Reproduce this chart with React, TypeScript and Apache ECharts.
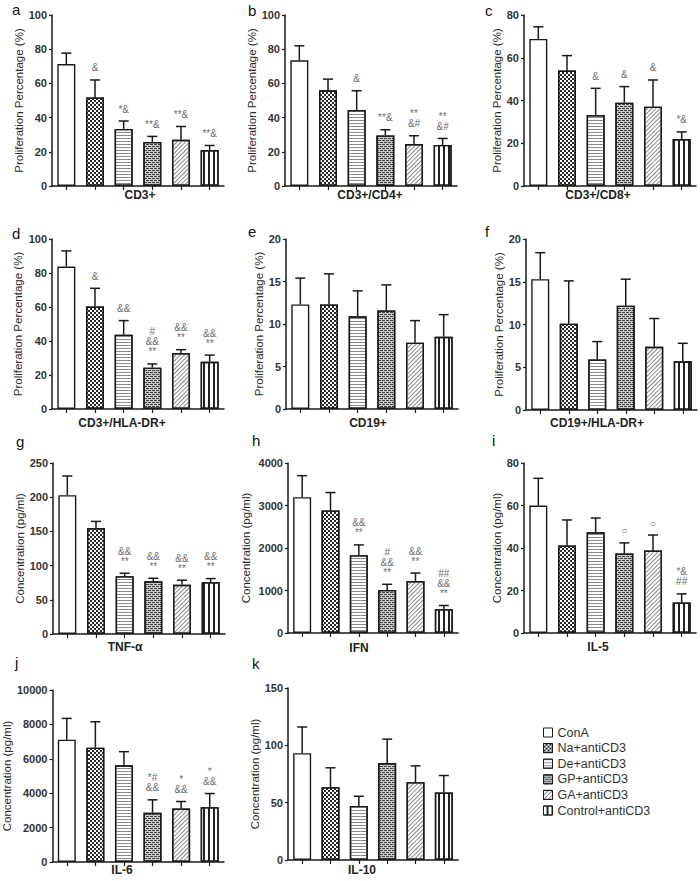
import React, { useEffect, useRef } from 'react';
import * as echarts from 'echarts';

const groups = ['ConA', 'Na+antiCD3', 'De+antiCD3', 'GP+antiCD3', 'GA+antiCD3', 'Control+antiCD3'];

const PP = 'Proliferation Percentage (%)';
const CC = 'Concentration (pg/ml)';

const cd3Mean = [71.3, 51.8, 33.4, 25.8, 27, 21];
const cd3Upper = [77.7, 62, 38, 29, 34.8, 23.7];
const cd3Sig = ['', '&', '*&', '**&', '**&', '**&'];

const cd4Mean = [73.5, 56, 44.4, 29.6, 24.5, 24];
const cd4Upper = [82, 62.5, 55.7, 32.9, 29.4, 27.8];
const cd4Sig = ['', '', '&', '**&', '**\n&#', '**\n&#'];

const cd8Mean = [68.8, 54, 33.2, 39, 37.1, 22];
const cd8Upper = [74.5, 61, 45.7, 46.5, 49.6, 25.3];
const cd8Sig = ['', '', '&', '&', '&', '*&'];

const hlaMean = [83.8, 60.3, 43.7, 24.3, 32.9, 27.8];
const hlaUpper = [93, 71, 52, 26.5, 34.9, 31.7];
const hlaSig = ['', '&', '&&', '#\n&&\n**', '&&\n**', '&&\n**'];

const cd19Mean = [12.3, 12.3, 10.9, 11.6, 7.8, 8.5];
const cd19Upper = [15.4, 15.9, 13.9, 14.6, 10.4, 11.1];
const cd19Sig = ['', '', '', '', '', ''];

const cd19HlaMean = [15.3, 10.1, 5.9, 12.2, 7.4, 5.7];
const cd19HlaUpper = [18.4, 15.1, 8.0, 15.3, 10.7, 7.8];
const cd19HlaSig = ['', '', '', '', '', ''];

const tnfMean = [203, 155, 84.5, 77, 72, 75.7];
const tnfUpper = [231, 164.6, 88.8, 81.5, 78.6, 81];
const tnfSig = ['', '', '&&\n**', '&&\n**', '&&\n**', '&&\n**'];

const ifnMean = [3196, 2884, 1832, 1013, 1224, 561];
const ifnUpper = [3702, 3305, 2073, 1146, 1411, 647];
const ifnSig = ['', '', '&&\n**', '#\n&&\n**', '&&\n**', '##\n&&\n**'];

const il5Mean = [60, 41.2, 47.4, 37.4, 38.8, 14.3];
const il5Upper = [72.8, 53.2, 54.1, 42.4, 46.1, 18.4];
const il5Sig = ['', '', '', '○', '○', '*&\n##'];

const il6Mean = [7111, 6647, 5623, 2860, 3111, 3188];
const il6Upper = [8348, 8155, 6415, 3614, 3517, 3981];
const il6Sig = ['', '', '', '*#\n&&', '*\n&&', '*\n&&'];

const il10Mean = [93.2, 63.5, 47.2, 84.5, 67.9, 58.8];
const il10Upper = [116, 80.4, 55.6, 105.4, 82.1, 73.7];
const il10Sig = ['', '', '', '', '', ''];

const panelLetters = ['a', 'b', 'c', 'd', 'e', 'f', 'g', 'h', 'i', 'j', 'k'];
const panelLabels = ['CD3+', 'CD3+/CD4+', 'CD3+/CD8+', 'CD3+/HLA-DR+', 'CD19+', 'CD19+/HLA-DR+', 'TNF-α', 'IFN', 'IL-5', 'IL-6', 'IL-10'];
const panelYNames = [PP, PP, PP, PP, PP, PP, CC, CC, CC, CC, CC];
const panelMax = [100, 100, 80, 100, 20, 20, 250, 4000, 80, 10000, 150];
const panelStep = [20, 20, 20, 20, 5, 5, 50, 1000, 20, 2000, 50];
const panelMeans = [cd3Mean, cd4Mean, cd8Mean, hlaMean, cd19Mean, cd19HlaMean, tnfMean, ifnMean, il5Mean, il6Mean, il10Mean];
const panelUppers = [cd3Upper, cd4Upper, cd8Upper, hlaUpper, cd19Upper, cd19HlaUpper, tnfUpper, ifnUpper, il5Upper, il6Upper, il10Upper];
const panelSigs = [cd3Sig, cd4Sig, cd8Sig, hlaSig, cd19Sig, cd19HlaSig, tnfSig, ifnSig, il5Sig, il6Sig, il10Sig];

// layout (pixels)
const layout = [
  { left: 52, top: 15, width: 172, height: 171, gap: 27, lx: 12, ly: 9, tx: 140, ty: 195 },
  { left: 285, top: 15, width: 172, height: 171, gap: 20.5, lx: 248, ly: 10, tx: 370, ty: 195 },
  { left: 524, top: 15, width: 172, height: 171, gap: 19.5, lx: 485, ly: 10, tx: 598, ty: 195 },
  { left: 52, top: 239, width: 172, height: 170, gap: 28, lx: 12, ly: 233, tx: 122, ty: 423 },
  { left: 286, top: 239, width: 172, height: 170, gap: 21, lx: 248, ly: 231, tx: 368, ty: 423 },
  { left: 526, top: 239, width: 171, height: 171, gap: 21.5, lx: 485, ly: 231, tx: 597, ty: 423 },
  { left: 53, top: 463, width: 172, height: 171, gap: 26.5, lx: 16, ly: 441, tx: 125, ty: 647 },
  { left: 288, top: 463, width: 170, height: 170, gap: 36.5, lx: 252, ly: 440, tx: 359, ty: 648 },
  { left: 524, top: 463, width: 172, height: 170, gap: 21.5, lx: 492, ly: 440, tx: 598, ty: 647 },
  { left: 52, top: 690, width: 172, height: 172, gap: 37.5, lx: 15, ly: 662, tx: 122, ty: 870 },
  { left: 288, top: 688, width: 170, height: 172, gap: 26.5, lx: 252, ly: 663, tx: 362, ty: 870 },
];

const FONT = "'Liberation Sans', Arial, Helvetica, sans-serif";
const INK = '#1a1a1a';

const fills = ['#ffffff', '#ffffff', '#ffffff', '#c8c8c8', '#ffffff', '#ffffff'];
const decals: any[] = [
  null,
  { symbol: 'rect', symbolSize: 1, color: '#2a2a2a', dashArrayX: [[2, 2], [0, 2, 2, 0]], dashArrayY: [2, 0] },
  { symbol: 'rect', symbolSize: 1, color: '#8a8a8a', dashArrayX: [1, 0], dashArrayY: [1, 2] },
  { symbol: 'rect', symbolSize: 1, color: '#444', dashArrayX: [[3, 1], [1, 1, 2, 0]], dashArrayY: [1, 1] },
  { symbol: 'rect', symbolSize: 1, color: '#8a8a8a', dashArrayX: [1, 0], dashArrayY: [1, 2], rotation: -Math.PI / 4 },
  { symbol: 'rect', symbolSize: 1, color: '#222', dashArrayX: [1, 0], dashArrayY: [2, 3], rotation: Math.PI / 2 },
];

function buildOption() {
  const grid: any[] = [];
  const xAxis: any[] = [];
  const yAxis: any[] = [];
  const series: any[] = [];
  const graphic: any[] = [];

  panelMeans.forEach((mean, p) => {
    const L = layout[p];
    grid.push({ left: L.left, top: L.top, width: L.width, height: L.height });
    xAxis.push({
      type: 'category',
      gridIndex: p,
      data: groups,
      boundaryGap: true,
      axisLine: { show: true, lineStyle: { color: INK, width: 1.5 } },
      axisTick: { show: true, alignWithLabel: true, interval: 0, length: 4, lineStyle: { color: INK, width: 1.2 } },
      axisLabel: { show: false, interval: 0 },
      splitLine: { show: false },
    });
    yAxis.push({
      type: 'value',
      gridIndex: p,
      min: 0,
      max: panelMax[p],
      interval: panelStep[p],
      name: panelYNames[p],
      nameLocation: 'middle',
      nameRotate: 90,
      nameGap: L.gap,
      nameTextStyle: { fontFamily: FONT, fontSize: 11.5, color: '#2a2a2a' },
      axisLine: { show: true, lineStyle: { color: INK, width: 1.5 } },
      axisTick: { show: true, length: 3, lineStyle: { color: INK, width: 1.2 } },
      axisLabel: {
        fontFamily: FONT,
        fontSize: 11,
        fontWeight: 'bold',
        color: '#333',
        margin: 5,
        formatter: (v: number) => String(v),
      },
      splitLine: { show: false },
    });

    groups.forEach((name, g) => {
      const itemStyle: any = { color: fills[g], borderColor: INK, borderWidth: 1.4 };
      if (decals[g]) itemStyle.decal = decals[g];
      series.push({
        type: 'bar',
        name,
        xAxisIndex: p,
        yAxisIndex: p,
        data: mean.map((v, i) => (i === g ? v : '-')),
        barWidth: 18,
        barGap: '-100%',
        itemStyle,
        silent: true,
        z: 2,
      });
    });

    const upper = panelUppers[p];
    const sig = panelSigs[p];
    series.push({
      type: 'custom',
      xAxisIndex: p,
      yAxisIndex: p,
      silent: true,
      z: 5,
      data: mean.map((v, i) => [i, v, upper[i]]),
      encode: { x: 0, y: 1 },
      renderItem: (params: any, api: any) => {
        const i = api.value(0);
        const v = api.value(1);
        const u = api.value(2);
        const a = api.coord([i, v]);
        const b = api.coord([i, u]);
        const x = a[0];
        const children: any[] = [
          { type: 'line', shape: { x1: x, y1: a[1], x2: x, y2: b[1] }, style: { stroke: INK, lineWidth: 1.5 } },
          { type: 'line', shape: { x1: x - 5, y1: b[1], x2: x + 5, y2: b[1] }, style: { stroke: INK, lineWidth: 1.5 } },
        ];
        const s = sig[params.dataIndex];
        if (s) {
          children.push({
            type: 'text',
            x,
            y: b[1] - 7,
            style: {
              text: s,
              fill: '#6e6e6e',
              fontSize: 10,
              fontFamily: FONT,
              align: 'center',
              verticalAlign: 'bottom',
              lineHeight: 10,
            },
          });
        }
        return { type: 'group', children };
      },
    });

    graphic.push({
      type: 'text',
      x: L.lx,
      y: L.ly,
      style: {
        text: panelLetters[p],
        fontSize: 15,
        fontFamily: FONT,
        fill: '#111',
        align: 'left',
        textAlign: 'left',
        verticalAlign: 'middle',
        textVerticalAlign: 'middle',
      },
    });
    graphic.push({
      type: 'text',
      x: L.tx,
      y: L.ty,
      style: {
        text: panelLabels[p],
        fontSize: 12,
        fontWeight: 'bold',
        fontFamily: FONT,
        fill: '#222',
        align: 'center',
        textAlign: 'center',
        verticalAlign: 'middle',
        textVerticalAlign: 'middle',
      },
    });
  });

  return {
    animation: false,
    backgroundColor: '#ffffff',
    grid,
    xAxis,
    yAxis,
    series,
    graphic,
    legend: {
      data: groups,
      orient: 'vertical',
      left: 543,
      top: 726,
      itemWidth: 9,
      itemHeight: 9,
      itemGap: 2.6,
      icon: 'rect',
      selectedMode: false,
      padding: 0,
      textStyle: { fontFamily: FONT, fontSize: 12.5, color: '#333', lineHeight: 12 },
      itemStyle: { borderColor: INK, borderWidth: 1 },
    },
  };
}

export default function App() {
  const ref = useRef<HTMLDivElement>(null);
  useEffect(() => {
    if (!ref.current) return;
    const chart = echarts.init(ref.current, null, { renderer: 'svg' });
    chart.setOption(buildOption() as any);
    return () => chart.dispose();
  }, []);
  return (
    <div
      ref={ref}
      style={{ position: 'fixed', left: 0, top: 0, width: 700, height: 881, background: '#fff' }}
    />
  );
}
